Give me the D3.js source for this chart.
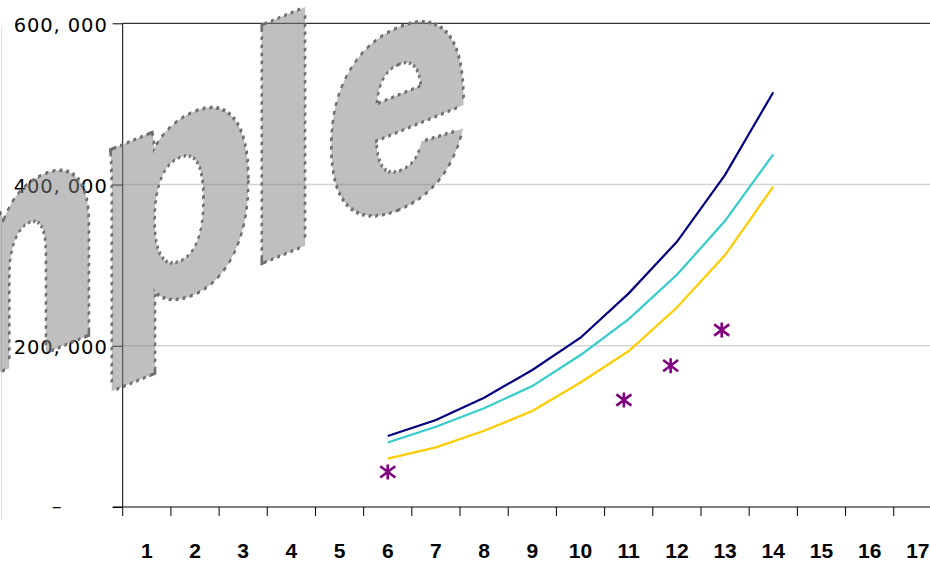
<!DOCTYPE html>
<html>
<head>
<meta charset="utf-8">
<script src="https://cdn.jsdelivr.net/npm/d3@7"></script>
<style>
  html, body { margin: 0; padding: 0; background: #fff; }
  svg { display: block; }
</style>
</head>
<body>
<svg id="chart" width="930" height="562"></svg>
<script>
// Categories along the x axis
const categories = d3.range(1, 18);
// Categories that carry the three curves
const curveCats = [6, 7, 8, 9, 10, 11, 12, 13, 14];
// Curve values
const navySeries   = [88000, 108000, 135500, 170000, 210000, 265000, 329000, 412000, 514500];
const cyanSeries   = [80000,  99500, 122500, 150000, 188500, 233000, 288000, 355000, 437500];
const yellowSeries = [60000,  74000,  94500, 119000, 154500, 193500, 247500, 312500, 397500];
// Observed points (position on the category axis, value)
const obsX = [6, 10.9, 11.87, 12.93];
const obsY = [43500, 132700, 175300, 219600];
// Y tick values
const yTicks = [0, 200000, 400000, 600000];

const svg = d3.select("#chart");
const W = 930, H = 562;
const plotLeft = 122.7, plotTop = 23.3, plotBottom = 507;
const step = 48.19;

const x = d3.scaleBand().domain(categories).range([plotLeft, plotLeft + step * categories.length]).padding(0);
const xNum = d3.scaleLinear().domain([0.5, categories.length + 0.5]).range(x.range());
const y = d3.scaleLinear().domain([0, 600000]).range([plotBottom, plotTop]);

// Gridlines
svg.append("g")
  .selectAll("line")
  .data([200000, 400000])
  .join("line")
  .attr("x1", plotLeft).attr("x2", W)
  .attr("y1", d => y(d)).attr("y2", d => y(d))
  .attr("stroke", "#d4d4d4").attr("stroke-width", 1.5);

// Top border of the plot area
svg.append("line")
  .attr("x1", plotLeft).attr("x2", W)
  .attr("y1", y(600000)).attr("y2", y(600000))
  .attr("stroke", "#000").attr("stroke-width", 1);

// Faint outer frame on the left
svg.append("line")
  .attr("x1", 1.5).attr("x2", 1.5).attr("y1", 27).attr("y2", 520)
  .attr("stroke", "#dcdcdc").attr("stroke-width", 1);

// Y axis
const yAxis = svg.append("g")
  .attr("transform", `translate(${plotLeft},0)`)
  .call(d3.axisLeft(y).tickValues(yTicks).tickSize(10).tickPadding(5)
    .tickFormat(v => v === 0 ? "\u2013" : d3.format(",")(v).replace(",", ", ")));
yAxis.select(".domain").attr("stroke", "#000").attr("d", `M0,${plotTop}V${plotBottom}`);
yAxis.selectAll(".tick line").attr("stroke", "#000");
yAxis.selectAll(".tick text")
  .attr("font-family", "'DejaVu Sans', sans-serif")
  .attr("font-size", 19.5)
  .attr("letter-spacing", 0.9)
  .attr("fill", "#000")
  .attr("dy", "0.42em");
yAxis.selectAll(".tick").filter(d => d === 0).select("text")
  .attr("text-anchor", "middle").attr("x", 57 - plotLeft).attr("dy", "0.3em");

// X axis line, tick marks at category edges, labels at centres
const xg = svg.append("g");
xg.append("line")
  .attr("x1", plotLeft - 10).attr("x2", W)
  .attr("y1", plotBottom).attr("y2", plotBottom)
  .attr("stroke", "#000").attr("stroke-width", 1);
xg.selectAll("line.edge")
  .data(d3.range(categories.length + 1))
  .join("line")
  .attr("class", "edge")
  .attr("x1", i => x.range()[0] + i * x.step())
  .attr("x2", i => x.range()[0] + i * x.step())
  .attr("y1", plotBottom).attr("y2", plotBottom + 9)
  .attr("stroke", "#000").attr("stroke-width", 1);
xg.selectAll("text")
  .data(categories)
  .join("text")
  .attr("x", d => x(d) + x.bandwidth() / 2)
  .attr("y", 558)
  .attr("text-anchor", "middle")
  .attr("font-family", "'Liberation Sans', Arial, sans-serif")
  .attr("font-weight", "bold")
  .attr("font-size", 21)
  .attr("fill", "#000")
  .text(d => d);

// Curves
const cx = c => x(c) + x.bandwidth() / 2;
const line = d3.line().x(d => cx(d[0])).y(d => y(d[1]));
const curves = [
  { vals: yellowSeries, color: "#FFCC00" },
  { vals: cyanSeries,   color: "#33CCCC" },
  { vals: navySeries,   color: "#000080" }
];
svg.append("g")
  .selectAll("path")
  .data(curves)
  .join("path")
  .attr("d", s => line(curveCats.map((c, i) => [c, s.vals[i]])))
  .attr("fill", "none")
  .attr("stroke", s => s.color)
  .attr("stroke-width", 2.2);

// Asterisk markers (vertical bar plus a cross)
const star = {
  draw(ctx, size) {
    const r = Math.sqrt(size) / 2;
    ctx.moveTo(0, -r); ctx.lineTo(0, r);
    ctx.moveTo(-r, -r * 0.75); ctx.lineTo(r, r * 0.75);
    ctx.moveTo(-r, r * 0.75); ctx.lineTo(r, -r * 0.75);
  }
};
svg.append("g")
  .selectAll("path")
  .data(obsX.map((c, i) => [c, obsY[i]]))
  .join("path")
  .attr("transform", d => `translate(${xNum(d[0])},${y(d[1])})`)
  .attr("d", d3.symbol(star, 225))
  .attr("fill", "none")
  .attr("stroke", "#800080")
  .attr("stroke-width", 2.6);

// "Sample" stamp: a heavy, sheared word with a translucent body and a dotted outline
const stampText = sel => sel
  .attr("font-family", "'Liberation Sans', Arial, sans-serif")
  .attr("font-weight", "bold")
  .attr("font-size", 315.6)
  .attr("dx", "0 0 3.7 -3.7 -8.6 7.4")
  .attr("stroke-linejoin", "miter")
  .attr("stroke-miterlimit", 3)
  .text("Sample");

const defs = svg.append("defs");
// ring a few pixels outside the glyph edges, where the dotted outline sits
const ring = defs.append("mask")
  .attr("id", "stampRing")
  .attr("maskUnits", "userSpaceOnUse")
  .attr("x", -600).attr("y", -800).attr("width", 3200).attr("height", 1600);
ring.append("text").call(stampText)
  .attr("fill", "#fff").attr("stroke", "#fff").attr("stroke-width", 13.6);
ring.append("text").call(stampText)
  .attr("fill", "#000").attr("stroke", "#000").attr("stroke-width", 6.6);

const stamp = svg.append("g")
  .attr("transform", "translate(-445,551.4) skewY(-22.5) scale(0.8143,1)");
stamp.append("g").attr("opacity", 0.5)
  .append("text").call(stampText)
  .attr("fill", "#808080").attr("stroke", "#808080").attr("stroke-width", 10);
stamp.append("g").attr("mask", "url(#stampRing)")
  .append("text").call(stampText)
  .attr("fill", "none").attr("stroke", "#707070").attr("stroke-width", 13.6)
  .attr("stroke-dasharray", "3.5 4.6");
</script>
</body>
</html>
